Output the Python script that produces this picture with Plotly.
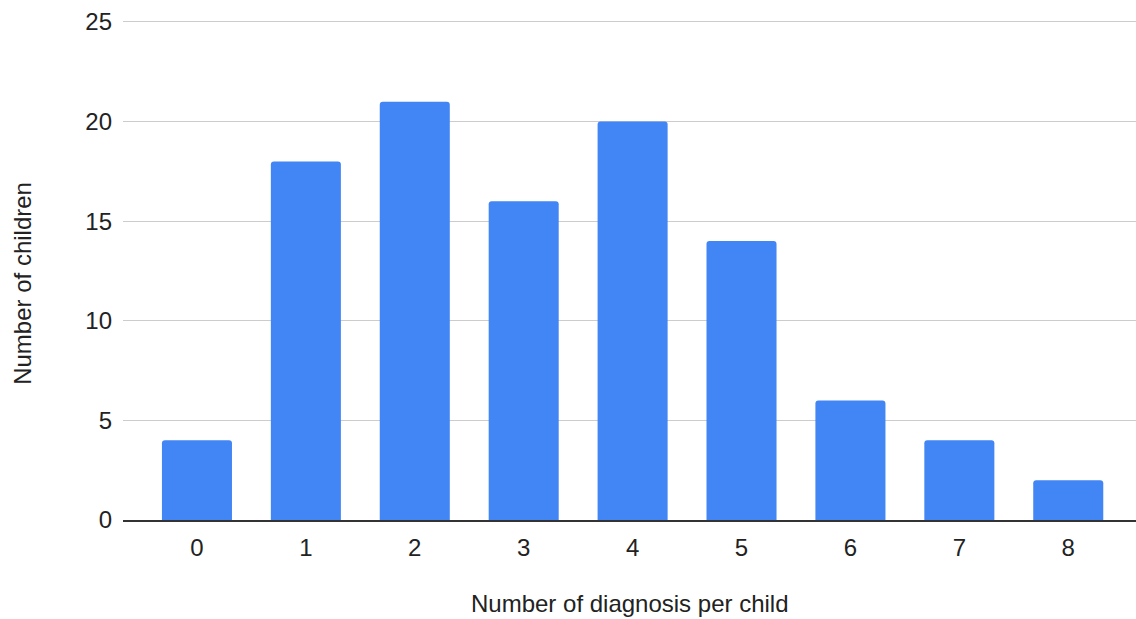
import plotly.graph_objects as go

# Diagnoses per child and how many children have that many
diagnoses = [0, 1, 2, 3, 4, 5, 6, 7, 8]
children = [4, 18, 21, 16, 20, 14, 6, 4, 2]

y_ticks = [0, 5, 10, 15, 20, 25]

FONT = "Liberation Sans, Arial, sans-serif"
TEXT = "#222222"
SIZE = 24

fig = go.Figure(
    go.Bar(
        x=diagnoses,
        y=children,
        width=0.643,
        marker=dict(color="#4285F4", line=dict(width=0)),
        hoverinfo="x+y",
    )
)

fig.update_layout(
    width=1136,
    height=619,
    margin=dict(l=123, r=0, t=16, b=99),
    paper_bgcolor="white",
    plot_bgcolor="white",
    showlegend=False,
    barcornerradius=3,
    font=dict(family=FONT, size=SIZE, color=TEXT),
    xaxis=dict(
        range=[-0.679, 8.622],
        tickmode="array",
        tickvals=diagnoses,
        ticktext=[str(d) for d in diagnoses],
        showgrid=False,
        zeroline=False,
        showline=True,
        linecolor="#333333",
        linewidth=1.5,
        ticks="",
        ticklabelstandoff=5,
        tickfont=dict(size=SIZE, color=TEXT),
        fixedrange=True,
    ),
    yaxis=dict(
        range=[0, 25.3],
        tickmode="array",
        tickvals=y_ticks,
        showgrid=True,
        gridcolor="#cccccc",
        gridwidth=1,
        zeroline=False,
        ticks="",
        ticklabelstandoff=10,
        tickfont=dict(size=SIZE, color=TEXT),
        fixedrange=True,
    ),
    annotations=[
        dict(
            text="Number of diagnosis per child",
            xref="paper", yref="paper",
            x=0.5, y=-0.165,
            xanchor="center", yanchor="middle",
            showarrow=False,
            font=dict(family=FONT, size=SIZE, color=TEXT),
        ),
        dict(
            text="Number of children",
            xref="paper", yref="paper",
            x=-0.1, y=0.47,
            xanchor="center", yanchor="middle",
            textangle=-90,
            showarrow=False,
            font=dict(family=FONT, size=SIZE, color=TEXT),
        ),
    ],
)

fig.write_html("out.html")
